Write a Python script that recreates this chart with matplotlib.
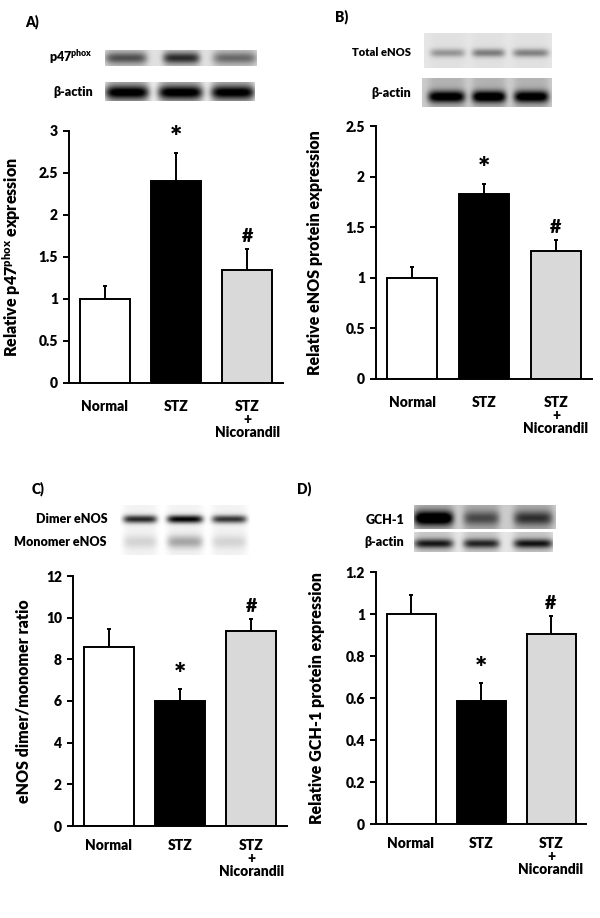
import numpy as np
import matplotlib
matplotlib.use("Agg")
from matplotlib import pyplot

groups = ["Normal", "STZ", "STZ\n+\nNicorandil"]
bar_colors = ["white", "black", "#d9d9d9"]

p47_mean = [1.0, 2.4, 1.35]
p47_err = [0.15, 0.34, 0.24]
p47_marks = ["", "*", "#"]

enos_mean = [1.0, 1.83, 1.26]
enos_err = [0.11, 0.10, 0.11]
enos_marks = ["", "*", "#"]

ratio_mean = [8.58, 5.98, 9.38]
ratio_err = [0.89, 0.60, 0.57]
ratio_marks = ["", "*", "#"]

gch_mean = [1.0, 0.588, 0.904]
gch_err = [0.092, 0.083, 0.085]
gch_marks = ["", "*", "#"]

# blot band darkness per lane (0 = none, 1 = black)
p47_bands = [0.45, 0.6, 0.35]
actinA_bands = [0.8, 0.8, 0.78]
total_enos_bands = [0.3, 0.4, 0.38]
actinB_bands = [0.85, 0.9, 0.85]
dimer_bands = [0.8, 0.95, 0.75]
monomer_bands = [0.12, 0.3, 0.12]
gch_bands = [0.95, 0.4, 0.5]
actinD_bands = [0.7, 0.65, 0.72]

W, H = 600, 918
FONT = ["Lato", "DejaVu Sans"]
WEIGHT = "heavy"

pyplot.rcParams["font.family"] = FONT
pyplot.rcParams["font.weight"] = WEIGHT
pyplot.rcParams["mathtext.fontset"] = "custom"
pyplot.rcParams["mathtext.rm"] = "Lato:heavy"
pyplot.rcParams["mathtext.it"] = "Lato:heavy"
pyplot.rcParams["mathtext.bf"] = "Lato:heavy"

figure = pyplot.figure(figsize=(6, 9.18), dpi=100)


def px_axes(x0, y0, x1, y1):
    return figure.add_axes([x0 / W, 1 - y1 / H, (x1 - x0) / W, (y1 - y0) / H])


def fig_text(x, y, s, **kw):
    kw.setdefault("fontweight", WEIGHT)
    figure.text(x / W, 1 - y / H, s, **kw)


def blot(rect, lanes, bands, band_y, band_h, bg, lane_bg=0.0, rows=60, cols=300):
    ax = px_axes(*rect)
    xx = np.linspace(0, 1, cols)[None, :]
    yy = np.linspace(0, 1, rows)[:, None]
    dark = np.full((rows, cols), bg)
    for (l0, l1), level in zip(lanes, bands):
        cx = (l0 + l1) / 2
        hw = (l1 - l0) / 2
        prof_x = np.exp(-np.abs((xx - cx) / hw) ** 6)
        dark = dark + lane_bg * prof_x
        for by, bh, lv in zip(band_y, band_h, level if isinstance(level, tuple) else (level,)):
            dark = dark + lv * prof_x * np.exp(-((yy - by) / bh) ** 2)
    img = 1 - np.clip(dark, 0, 1)
    ax.imshow(img, cmap="gray", vmin=0, vmax=1, aspect="auto", interpolation="bilinear")
    ax.set_axis_off()
    return ax


def lanes_px(x0, x1, spans):
    return [((a - x0) / (x1 - x0), (b - x0) / (x1 - x0)) for a, b in spans]


def bar_panel(rect, means, errs, marks, ylim, yticks, ylabel, label_x, ticklabels, xpad=9):
    ax = px_axes(*rect)
    pos = np.arange(len(means))
    ax.bar(pos, means, width=0.7, color=bar_colors, edgecolor="black", linewidth=1.4, zorder=2)
    ax.errorbar(pos, means, yerr=[np.zeros(len(errs)), errs], fmt="none", ecolor="black",
                elinewidth=1.4, capsize=1.5, capthick=1.4, zorder=1)
    for p, m, e, mk in zip(pos, means, errs, marks):
        if mk:
            ax.annotate(mk, xy=(p, m + e), xytext=(0, 1 if mk == "*" else 3),
                        textcoords="offset points", ha="center", va="bottom",
                        fontsize=21 if mk == "*" else 14, fontweight=WEIGHT)
    ax.set_xlim(-0.5, 2.5)
    ax.set_ylim(*ylim)
    ax.set_yticks(yticks)
    ax.set_yticklabels([("%g" % t) for t in yticks], fontsize=10, fontweight=WEIGHT)
    ax.set_xticks(pos)
    ax.set_xticklabels(ticklabels, fontsize=10, fontweight=WEIGHT, linespacing=1.0)
    ax.tick_params(axis="x", length=0, pad=xpad)
    ax.tick_params(axis="y", length=4, width=1.4, direction="out", pad=4)
    for s in ["top", "right"]:
        ax.spines[s].set_visible(False)
    for s in ["left", "bottom"]:
        ax.spines[s].set_linewidth(1.4)
    ax.set_ylabel(ylabel, fontsize=11.5, fontweight=WEIGHT)
    # ylabel anchor is the right edge of the rotated text
    ax.yaxis.set_label_coords(label_x / W, 1 - (rect[1] + rect[3]) / 2 / H,
                              transform=figure.transFigure)
    return ax


# ---- panel A ----
fig_text(25, 22, "A)", fontsize=10, va="center")
blot((105, 50, 257, 66), lanes_px(105, 257, [(105, 147), (163, 200), (213, 257)]),
     p47_bands, [0.5], [0.35], bg=0.12, lane_bg=0.12)
blot((105, 82, 255, 101), lanes_px(105, 255, [(105, 149), (158, 203), (211, 255)]),
     actinA_bands, [0.55], [0.35], bg=0.05, lane_bg=0.25)
fig_text(93, 57, r"p47$^{phox}$", fontsize=9, ha="right", va="center")
fig_text(93, 92, "β-actin", fontsize=9, ha="right", va="center")
bar_panel((69, 131, 283, 383), p47_mean, p47_err, p47_marks, (0, 3),
          [0, 0.5, 1, 1.5, 2, 2.5, 3], r"Relative p47$^{phox}$ expression", 23, groups,
          xpad=12)

# ---- panel B ----
fig_text(335, 17, "B)", fontsize=10, va="center")
blot((424, 33, 552, 68), lanes_px(424, 552, [(430, 465), (472, 505), (513, 549)]),
     total_enos_bands, [0.57], [0.12], bg=0.1, lane_bg=0.02)
blot((422, 78, 552, 107), lanes_px(422, 552, [(428, 465), (472, 506), (514, 549)]),
     actinB_bands, [0.66], [0.2], bg=0.2, lane_bg=0.1)
fig_text(411, 53, "Total eNOS", fontsize=8, ha="right", va="center")
fig_text(411, 93, "β-actin", fontsize=9, ha="right", va="center")
bar_panel((376, 126, 592, 379), enos_mean, enos_err, enos_marks, (0, 2.5),
          [0, 0.5, 1, 1.5, 2, 2.5], "Relative eNOS protein expression", 323, groups,
          xpad=12)

# ---- panel C ----
fig_text(32, 489, "C)", fontsize=10, va="center")
blot((120, 505, 250, 555), lanes_px(120, 250, [(123, 157), (167, 203), (212, 247)]),
     [(d, m) for d, m in zip(dimer_bands, monomer_bands)], [0.28, 0.74], [0.08, 0.13],
     bg=0.0, lane_bg=0.05)
fig_text(108, 519, "Dimer eNOS", fontsize=9, ha="right", va="center")
fig_text(107, 542, "Monomer eNOS", fontsize=9, ha="right", va="center")
bar_panel((73, 576, 287, 826), ratio_mean, ratio_err, ratio_marks, (0, 12),
          [0, 2, 4, 6, 8, 10, 12], "eNOS dimer/monomer ratio", 32, groups)

# ---- panel D ----
fig_text(297, 489, "D)", fontsize=10, va="center")
blot((414, 505, 555, 529), lanes_px(414, 555, [(414, 453), (463, 499), (513, 552)]),
     gch_bands, [0.55], [0.3], bg=0.2, lane_bg=0.12)
blot((414, 532, 552, 552), lanes_px(414, 552, [(414, 453), (463, 499), (513, 552)]),
     actinD_bands, [0.6], [0.22], bg=0.1, lane_bg=0.12)
fig_text(404, 520, "GCH-1", fontsize=9, ha="right", va="center")
fig_text(404, 542, "β-actin", fontsize=9, ha="right", va="center")
bar_panel((376, 572, 586, 824), gch_mean, gch_err, gch_marks, (0, 1.2),
          [0, 0.2, 0.4, 0.6, 0.8, 1, 1.2], "Relative GCH-1 protein expression", 325, groups)

figure.savefig("out.png", dpi=100)
